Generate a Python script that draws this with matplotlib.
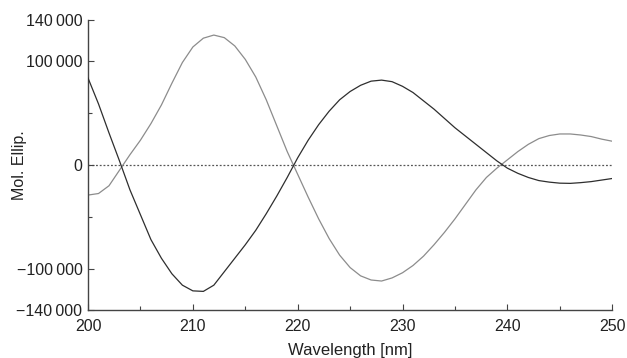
import matplotlib
matplotlib.use("Agg")
import matplotlib.pyplot as plt
from matplotlib.ticker import FixedLocator

plt.rcParams['font.family'] = ['Liberation Sans', 'DejaVu Sans']

wavelength = list(range(200, 251))

series_dark = [84, 59, 31, 4, -24, -48, -72, -90, -105, -116,
               -121.5, -122, -116, -103, -90, -77, -63, -47, -30, -12,
               7, 24, 39, 52, 63, 71, 77, 81, 82, 80.5,
               76, 70, 62, 54, 45, 36, 28, 20, 12, 4,
               -3, -8, -12, -15, -16.5, -17.5, -17.7, -17, -16, -14.5,
               -13]

series_light = [-29, -27.5, -20, -5, 10, 24, 40, 58, 79, 99,
                114, 122.5, 125.5, 123, 115, 102, 85, 63, 38, 13,
                -9, -31, -52, -71, -87, -99, -107, -111, -112, -109,
                -104, -97, -88, -77, -65, -52, -38, -24, -12, -3,
                5, 13, 20, 25.5, 28.5, 30, 30, 29, 27.5, 25,
                23]

y_ticks = [-140000, -100000, 0, 100000, 140000]
y_tick_labels = ['\u2212140\u2009000', '\u2212100\u2009000', '0', '100\u2009000', '140\u2009000']
y_minor = [-50000, 50000]
x_ticks = [200, 210, 220, 230, 240, 250]
x_minor = [205, 215, 225, 235, 245]

fig = plt.figure(figsize=(6.27, 3.58), dpi=100)
ax = fig.add_axes([0.1404, 0.134, 0.836, 0.810])

ax.axhline(0, color='#555555', lw=0.9, ls=(0, (1.5, 1.5)), zorder=1)
ax.plot(wavelength, [v * 1000 for v in series_light], color='#8c8c8c', lw=0.9, zorder=2)
ax.plot(wavelength, [v * 1000 for v in series_dark], color='#2e2e2e', lw=0.9, zorder=3)

ax.set_xlim(200, 250)
ax.set_ylim(-140000, 140000)

for s in ['top', 'right']:
    ax.spines[s].set_visible(False)
for s in ['left', 'bottom']:
    ax.spines[s].set_color('#444444')
    ax.spines[s].set_linewidth(1.0)

ax.set_yticks(y_ticks)
ax.set_yticklabels(y_tick_labels)
ax.yaxis.set_minor_locator(FixedLocator(y_minor))
ax.set_xticks(x_ticks)
ax.set_xticklabels([str(t) for t in x_ticks])
ax.xaxis.set_minor_locator(FixedLocator(x_minor))

ax.tick_params(axis='both', which='major', direction='in', length=4, width=0.8,
               color='#444444', labelsize=11.5, labelcolor='#222222')
ax.tick_params(axis='x', which='major', pad=6.5)
ax.tick_params(axis='y', which='major', pad=4)
ax.tick_params(axis='both', which='minor', direction='in', length=3, width=0.8, color='#444444')

ax.set_xlabel('Wavelength [nm]', fontsize=12, color='#222222')
ax.xaxis.set_label_coords(0.5, -0.112)
ax.set_ylabel('Mol. Ellip.', fontsize=11.5, color='#222222')
ax.yaxis.set_label_coords(-0.116, 0.5)

fig.savefig('out.png', dpi=100, facecolor='white')
